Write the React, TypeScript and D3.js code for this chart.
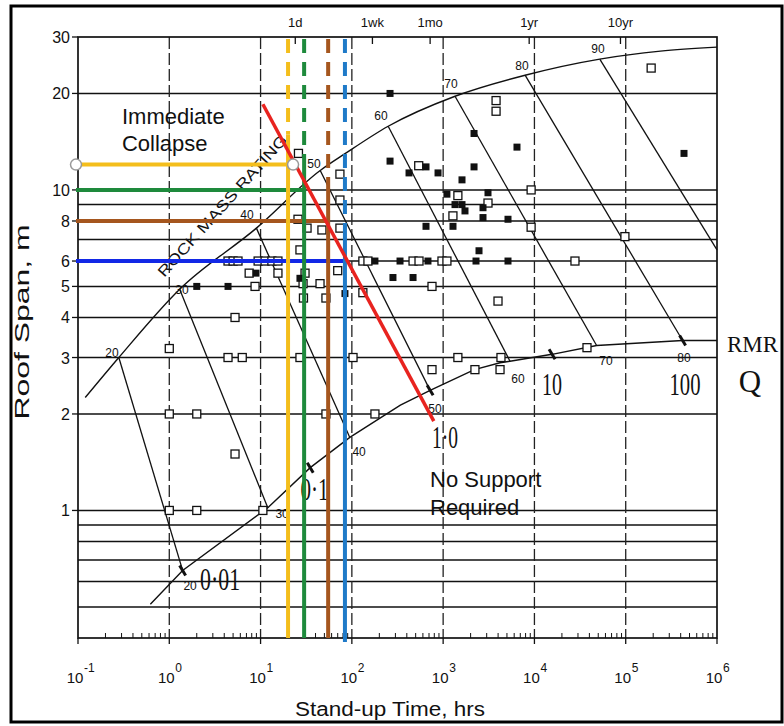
import * as d3 from "d3";

type Pt = [number, number];

// x = stand-up time (hrs), y = roof span (m)
const timeDecades = [0.1, 1, 10, 100, 1000, 10000, 100000, 1000000];
const spanTicks = [30, 20, 10, 8, 6, 5, 4, 3, 2, 1];
const spanGridLines = [20, 10, 9, 8, 7, 6, 5, 4, 3, 2, 1, 0.9, 0.8, 0.7, 0.6, 0.5];
const timeMarks = [24, 168, 720, 8760, 87600];
const timeMarkLabels = ["1d", "1wk", "1mo", "1yr", "10yr"];

// boundary curves
const collapseCurve: Pt[] = [
  [0.12, 2.25], [0.28, 3.0], [1.3, 4.9], [9, 7.6], [45, 11.5], [85, 13],
  [250, 15.8], [1350, 19.6], [7900, 22.8], [52000, 25.6], [240000, 27.1], [1e6, 27.9],
];
const noSupportCurve: Pt[] = [
  [0.62, 0.51], [1.4, 0.65], [12, 1.02], [35, 1.36], [95, 1.69], [340, 2.13],
  [720, 2.37], [2200, 2.75], [4200, 2.89], [5400, 2.92], [15600, 3.07],
  [48000, 3.27], [420000, 3.39], [1e6, 3.39],
];

// rock mass rating lines
const rmrValues = [20, 30, 40, 50, 60, 70, 80, 90];
const rmrTop: Pt[] = [
  [0.28, 3.0], [1.3, 4.9], [9, 7.6], [45, 11.5], [250, 15.8], [1350, 19.6], [7900, 22.8], [52000, 25.6],
];
const rmrBottom: Pt[] = [
  [1.4, 0.65], [12, 1.02], [95, 1.69], [720, 2.37], [5400, 2.92], [48000, 3.27], [420000, 3.39], [1e6, 6.5],
];
const rmrTopLabelAt: Pt[] = [
  [0.236, 3.11], [1.38, 4.89], [7.1, 8.37], [38.5, 12.06], [208, 17.0], [1220, 21.4], [7300, 24.4], [49700, 27.5],
];
const rmrBottomLabelAt: Pt[] = [
  [1.69, 0.581], [17.2, 0.973], [120, 1.518], [814, 2.07], [6600, 2.58], [60800, 2.92], [435000, 2.98],
];

// Q values on the no-support line
const qValues = ["0·01", "0·1", "1·0", "10", "100"];
const qMarks: Pt[] = [[1.4, 0.65], [35, 1.36], [720, 2.37], [15600, 3.07], [420000, 3.39]];
const qLabelAt: Pt[] = [[3.6, 0.565], [39, 1.076], [1050, 1.563], [15600, 2.285], [446000, 2.285]];
const qLabelWidth = [40, 28, 26, 20, 31];

// case histories
const openCases: Pt[] = [
  [190000, 24], [3800, 19], [3800, 17.6], [540, 11.9], [1450, 9.6], [9200, 10], [3100, 9.1],
  [1280, 8.3], [9200, 7.65], [98000, 7.15], [26, 13],
  [132, 6], [150, 6], [468, 6], [544, 6], [971, 6], [1100, 6], [27800, 6],
  [4.4, 6], [5, 6], [5.66, 6], [9.4, 6], [11.2, 6], [13.3, 6], [15.5, 6],
  [755, 5], [3990, 4.5], [8.7, 5], [7.5, 5.5], [15.5, 5.5], [5.25, 4],
  [25.7, 8.1], [32.3, 7.6], [47, 7.5], [27, 6.5], [30.7, 5.5], [29.2, 5.1], [29.5, 4.6],
  [44.8, 5.1], [52, 4.6], [74, 7.6], [74, 9.3], [74, 11.2], [70, 5.6], [132, 4.78],
  [1, 3.2], [4.4, 3], [6.3, 3], [27, 3], [103, 3], [1, 2], [2, 2], [52, 2], [179, 2],
  [5.25, 1.5], [1, 1], [2, 1], [10.6, 1],
  [755, 2.75], [2230, 2.75], [4200, 2.75], [1450, 3], [4300, 3], [37650, 3.22],
];
const filledCases: Pt[] = [
  [435000, 13], [2180, 15], [6440, 13.6], [262, 20], [262, 12.3], [649, 11.8], [423, 11.3],
  [879, 11.3], [2180, 11.8], [1609, 10.75], [1100, 9.7], [3100, 9.8], [1349, 9.0], [1609, 9.0],
  [1735, 8.6], [2733, 8.8], [2733, 8.2], [5134, 8.1], [649, 7.7], [1282, 7.7], [2471, 6.46],
  [179, 6], [337, 6], [682, 6], [2291, 6], [5134, 6],
  [282, 5.33], [468, 5.33], [2, 5], [4.4, 5], [8.9, 5.5], [27, 5.3], [84, 4.75],
];

// coloured read-off lines
const guideSpans = [12, 10, 8, 6];
const guideTimes = [20, 30, 55, 84];
const redLine: Pt[] = [[10.6, 18.5], [790, 1.9]];

export default function App() {
  const x = d3.scaleLog().domain([0.1, 1e6]).range([78, 717]);
  const y = d3.scaleLog().domain([0.4, 30]).range([638, 37]);
  const left = x(0.1);
  const right = x(1e6);
  const top = y(30);
  const bottom = y(0.4);

  const px = (d: Pt) => x(d[0]);
  const py = (d: Pt) => y(d[1]);
  const smooth = d3.line<Pt>().x(px).y(py).curve(d3.curveMonotoneX);
  const straight = d3.line<Pt>().x(px).y(py);

  const minor = d3
    .range(-1, 6)
    .flatMap((e) => d3.range(2, 10).map((k) => k * Math.pow(10, e)));

  const sans = "'Liberation Sans', Arial, sans-serif";
  const serif = "'Liberation Serif', 'Times New Roman', serif";
  const ink = "#111";
  const hColors = ["#F4BE1C", "#1E8A3C", "#A5561E", "#1228E6"];
  const vColors = ["#F4BE1C", "#1E8A3C", "#A5561E", "#1F7AC8"];

  return (
    <svg
      width={784}
      height={726}
      style={{ position: "absolute", left: 0, top: 0, background: "#fff" }}
    >
      <rect x={11} y={6} width={771} height={716} fill="#fff" stroke="#000" strokeWidth={3} />

      {/* grid */}
      {spanGridLines.map((v) => (
        <line key={`h-${v}`} x1={left} x2={right} y1={y(v)} y2={y(v)} stroke={ink} strokeWidth={1.5} />
      ))}
      {timeDecades.slice(1, -1).map((v) => (
        <line
          key={`v-${v}`}
          x1={x(v)}
          x2={x(v)}
          y1={top}
          y2={bottom}
          stroke="#222"
          strokeWidth={1.3}
          strokeDasharray="12,4"
        />
      ))}
      <rect x={left} y={top} width={right - left} height={bottom - top} fill="none" stroke={ink} strokeWidth={1.7} />

      {/* axis ticks */}
      {minor.map((v) => (
        <line key={`m-${v}`} x1={x(v)} x2={x(v)} y1={bottom} y2={bottom - 5} stroke={ink} strokeWidth={1} />
      ))}
      {timeDecades.map((v) => (
        <line key={`d-${v}`} x1={x(v)} x2={x(v)} y1={bottom} y2={bottom + 6} stroke={ink} strokeWidth={1.3} />
      ))}
      {spanTicks.map((v) => (
        <line key={`yt-${v}`} x1={left - 6} x2={left} y1={y(v)} y2={y(v)} stroke={ink} strokeWidth={1.3} />
      ))}
      {timeMarks.map((v) => (
        <line key={`tm-${v}`} x1={x(v)} x2={x(v)} y1={top} y2={top + 7} stroke={ink} strokeWidth={1.3} />
      ))}

      {/* tick labels */}
      {spanTicks.map((v) => (
        <text key={`yl-${v}`} x={left - 8} y={y(v) + 6} fontSize={16} fontFamily={sans} textAnchor="end" fill={ink}>
          {v}
        </text>
      ))}
      {timeDecades.map((v) => (
        <g key={`xl-${v}`} fontFamily={sans} fill={ink}>
          <text x={x(v) - 3} y={bottom + 45} fontSize={15} textAnchor="middle">
            10
          </text>
          <text x={x(v) + 6} y={bottom + 34} fontSize={12}>
            {Math.round(Math.log10(v))}
          </text>
        </g>
      ))}
      {timeMarks.map((v, i) => (
        <text key={`tl-${v}`} x={x(v)} y={top - 10} fontSize={13} fontFamily={sans} textAnchor="middle" fill={ink}>
          {timeMarkLabels[i]}
        </text>
      ))}

      {/* axis titles */}
      <text x={390} y={716} fontSize={20} fontFamily={sans} textAnchor="middle" textLength={190} lengthAdjust="spacingAndGlyphs" fill={ink}>
        Stand-up Time, hrs
      </text>
      <text
        transform="translate(29,322) rotate(-90)"
        fontSize={20}
        fontFamily={sans}
        textAnchor="middle"
        textLength={195}
        lengthAdjust="spacingAndGlyphs"
        fill={ink}
      >
        Roof Span, m
      </text>

      {/* boundaries and RMR lines */}
      <path d={smooth(collapseCurve) ?? ""} fill="none" stroke={ink} strokeWidth={1.4} />
      <path d={straight(noSupportCurve) ?? ""} fill="none" stroke={ink} strokeWidth={1.4} />
      {rmrValues.map((v, i) => (
        <line
          key={`rmr-${v}`}
          x1={px(rmrTop[i])}
          y1={py(rmrTop[i])}
          x2={px(rmrBottom[i])}
          y2={py(rmrBottom[i])}
          stroke={ink}
          strokeWidth={1.3}
        />
      ))}
      {rmrValues.map((v, i) => (
        <text key={`rt-${v}`} x={px(rmrTopLabelAt[i])} y={py(rmrTopLabelAt[i]) + 4} fontSize={12} fontFamily={sans} textAnchor="middle" fill={ink}>
          {v}
        </text>
      ))}
      {rmrBottomLabelAt.map((d, i) => (
        <text key={`rb-${i}`} x={px(d)} y={py(d) + 4} fontSize={12} fontFamily={sans} textAnchor="middle" fill={ink}>
          {rmrValues[i]}
        </text>
      ))}
      {qMarks.map((d, i) => (
        <line
          key={`qm-${i}`}
          x1={px(d) - 3}
          y1={py(d) - 5}
          x2={px(d) + 3}
          y2={py(d) + 5}
          stroke={ink}
          strokeWidth={3}
        />
      ))}
      {qValues.map((q, i) => (
        <text
          key={`ql-${q}`}
          x={px(qLabelAt[i])}
          y={py(qLabelAt[i])}
          fontSize={32}
          fontFamily={serif}
          textAnchor="middle"
          textLength={qLabelWidth[i]}
          lengthAdjust="spacingAndGlyphs"
          fill={ink}
        >
          {q}
        </text>
      ))}
      <text x={727} y={352} fontSize={23} fontFamily={serif} fill={ink}>
        RMR
      </text>
      <text x={750} y={392} fontSize={31} fontFamily={serif} textAnchor="middle" fill={ink}>
        Q
      </text>

      {/* case histories */}
      {openCases.map((d, i) => (
        <rect key={`o-${i}`} x={px(d) - 4} y={py(d) - 4} width={8} height={8} fill="#fff" stroke={ink} strokeWidth={1.3} />
      ))}
      {filledCases.map((d, i) => (
        <rect key={`f-${i}`} x={px(d) - 3.5} y={py(d) - 3.5} width={7} height={7} fill={ink} />
      ))}

      {/* annotations */}
      <g fontFamily={sans} fontSize={22} fill={ink}>
        <text x={x(0.303)} y={y(16.07)}>Immediate</text>
        <text x={x(0.303)} y={y(13.24)}>Collapse</text>
        <text x={x(718)} y={y(1.18)}>No Support</text>
        <text x={x(718)} y={y(0.966)}>Required</text>
      </g>
      <text
        transform={`translate(${x(4.2)},${y(8.7)}) rotate(-48)`}
        fontFamily={sans}
        fontSize={15}
        textAnchor="middle"
        textLength={185}
        lengthAdjust="spacingAndGlyphs"
        fill={ink}
      >
        ROCK MASS RATING
      </text>

      {/* coloured read-off lines */}
      {guideSpans.map((s, i) => (
        <line
          key={`gh-${s}`}
          x1={left - 2}
          x2={i === 0 ? x(22.7) : x(guideTimes[i])}
          y1={y(s)}
          y2={y(s)}
          stroke={hColors[i]}
          strokeWidth={4}
        />
      ))}
      {guideTimes.map((t, i) => (
        <g key={`gv-${t}`} stroke={vColors[i]} strokeWidth={4}>
          <line x1={x(t)} x2={x(t)} y1={top + 2} y2={y(guideSpans[i]) - 30} strokeDasharray="14,9" />
          <line x1={x(t)} x2={x(t)} y1={y(guideSpans[i]) - 30} y2={bottom + (i === 3 ? 4 : 0)} />
        </g>
      ))}
      <path d={straight(redLine) ?? ""} stroke="#E8231F" strokeWidth={3.5} fill="none" />
      <circle cx={left - 2} cy={y(12)} r={5.5} fill="#fff" stroke="#999" strokeWidth={1.5} />
      <circle cx={x(22.7)} cy={y(12)} r={5.5} fill="#fff" stroke="#999" strokeWidth={1.5} />
    </svg>
  );
}
